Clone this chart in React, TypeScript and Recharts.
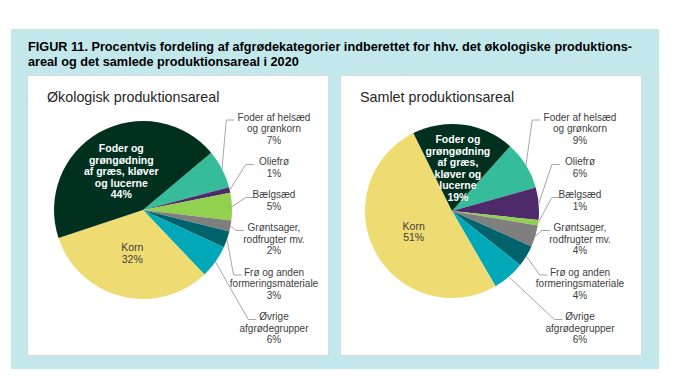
import React from "react";
import { PieChart, Pie, Cell } from "recharts";

// category order follows the pie clockwise from the top-right edge
const categories = [
  "Foder af helsæd og grønkorn",
  "Oliefrø",
  "Bælgsæd",
  "Grøntsager, rodfrugter mv.",
  "Frø og anden formeringsmateriale",
  "Øvrige afgrødegrupper",
  "Korn",
  "Foder og grøngødning af græs, kløver og lucerne",
];

const oekoValues = [7, 1, 5, 2, 3, 6, 32, 44];
const samletValues = [9, 6, 1, 4, 4, 6, 51, 19];

const oekoLabelLines = [
  ["Foder af helsæd", "og grønkorn"],
  ["Oliefrø"],
  ["Bælgsæd"],
  ["Grøntsager,", "rodfrugter mv."],
  ["Frø og anden", "formeringsmateriale"],
  ["Øvrige", "afgrødegrupper"],
  ["Korn"],
  ["Foder og", "grøngødning", "af græs, kløver", "og lucerne"],
];

const samletLabelLines = [
  ["Foder af helsæd", "og grønkorn"],
  ["Oliefrø"],
  ["Bælgsæd"],
  ["Grøntsager,", "rodfrugter mv."],
  ["Frø og anden", "formeringsmateriale"],
  ["Øvrige", "afgrødegrupper"],
  ["Korn"],
  ["Foder og", "grøngødning", "af græs,", "kløver og", "lucerne"],
];

const colors = [
  "#36BC9B",
  "#4E2A6B",
  "#92D050",
  "#7F7F7F",
  "#00636B",
  "#00A8B8",
  "#EEDB72",
  "#01301F",
];

const FONT = "'Liberation Sans', Arial, sans-serif";
const LINE_H = 11.5;
const LABEL_TOP = 41;
const LABEL_GAP = 10;
const INSIDE_FROM = 6;

function makeLabel(lines: string[][], colX: number) {
  const tops: number[] = [];
  let y = LABEL_TOP;
  lines.slice(0, INSIDE_FROM).forEach((l) => {
    tops.push(y);
    y += (l.length + 1) * LINE_H + LABEL_GAP;
  });

  return (p: any) => {
    const { cx, cy, midAngle, outerRadius, index, value } = p;
    const rad = Math.PI / 180;
    const cos = Math.cos(-midAngle * rad);
    const sin = Math.sin(-midAngle * rad);
    const text = [...lines[index], value + "%"];

    if (index >= INSIDE_FROM) {
      const r = outerRadius * 0.5;
      const x = cx + r * cos;
      const y0 = cy + r * sin - ((text.length - 1) * LINE_H) / 2;
      const dark = index === 7;
      return (
        <text
          key={"in" + index}
          textAnchor="middle"
          fontFamily={FONT}
          fontSize={10.5}
          fontWeight={dark ? "bold" : "normal"}
          fill={dark ? "#FFFFFF" : "#404040"}
        >
          {text.map((t, k) => (
            <tspan key={k} x={x} y={y0 + k * LINE_H} dominantBaseline="central">
              {t}
            </tspan>
          ))}
        </text>
      );
    }

    const ty = tops[index];
    const sx = cx + outerRadius * cos;
    const sy = cy + outerRadius * sin;
    const ex = colX - (lines[index][0].length * 4.9) / 2 - 3;
    const ey = ty + 3;
    return (
      <g key={"out" + index}>
        <polyline
          points={`${sx},${sy} ${ex - 8},${ey} ${ex},${ey}`}
          fill="none"
          stroke="#A6A6A6"
          strokeWidth={1}
        />
        <text textAnchor="middle" fontFamily={FONT} fontSize={10} fill="#404040">
          {text.map((t, k) => (
            <tspan key={k} x={colX} y={ty + k * LINE_H} dominantBaseline="central">
              {t}
            </tspan>
          ))}
        </text>
      </g>
    );
  };
}

function PiePanel(props: {
  title: string;
  values: number[];
  lines: string[][];
  left: number;
  cx: number;
  cy: number;
  radius: number;
  startAngle: number;
  colX: number;
}) {
  const data = categories.map((name, i) => ({ name, value: props.values[i] }));
  return (
    <div
      style={{
        position: "absolute",
        left: props.left,
        top: 76,
        width: 300,
        height: 279,
        background: "#FFFFFF",
        boxShadow: "0 0 0 1px #D9D9D9",
      }}
    >
      <div
        style={{
          position: "absolute",
          left: 19,
          top: 13,
          fontFamily: FONT,
          fontSize: 14.3,
          color: "#262626",
          whiteSpace: "nowrap",
        }}
      >
        {props.title}
      </div>
      <div style={{ position: "absolute", left: 0, top: 0 }}>
        <PieChart width={300} height={279}>
          <Pie
            data={data}
            dataKey="value"
            nameKey="name"
            cx={props.cx}
            cy={props.cy}
            outerRadius={props.radius}
            startAngle={props.startAngle}
            endAngle={props.startAngle - 360}
            stroke="none"
            labelLine={false}
            label={makeLabel(props.lines, props.colX)}
            isAnimationActive={false}
          >
            {data.map((d, i) => (
              <Cell key={d.name} fill={colors[i]} />
            ))}
          </Pie>
        </PieChart>
      </div>
    </div>
  );
}

export default function App() {
  return (
    <div
      style={{
        position: "absolute",
        left: 0,
        top: 0,
        width: 700,
        height: 392,
        background: "#FFFFFF",
      }}
    >
      <div
        style={{
          position: "absolute",
          left: 11,
          top: 29,
          width: 648,
          height: 340,
          background: "#C2E8EC",
        }}
      />
      <div
        style={{
          position: "absolute",
          left: 28,
          top: 40,
          fontFamily: FONT,
          fontSize: 12.7,
          fontWeight: "bold",
          lineHeight: "15px",
          color: "#000000",
          whiteSpace: "nowrap",
        }}
      >
        FIGUR 11. Procentvis fordeling af afgrødekategorier indberettet for hhv. det økologiske produktions-
        <br />
        areal og det samlede produktionsareal i 2020
      </div>
      <PiePanel
        title="Økologisk produktionsareal"
        values={oekoValues}
        lines={oekoLabelLines}
        left={28}
        cx={110}
        cy={129}
        radius={89}
        startAngle={40}
        colX={246}
      />
      <PiePanel
        title="Samlet produktionsareal"
        values={samletValues}
        lines={samletLabelLines}
        left={341}
        cx={106}
        cy={130}
        radius={87}
        startAngle={48}
        colX={239}
      />
    </div>
  );
}
